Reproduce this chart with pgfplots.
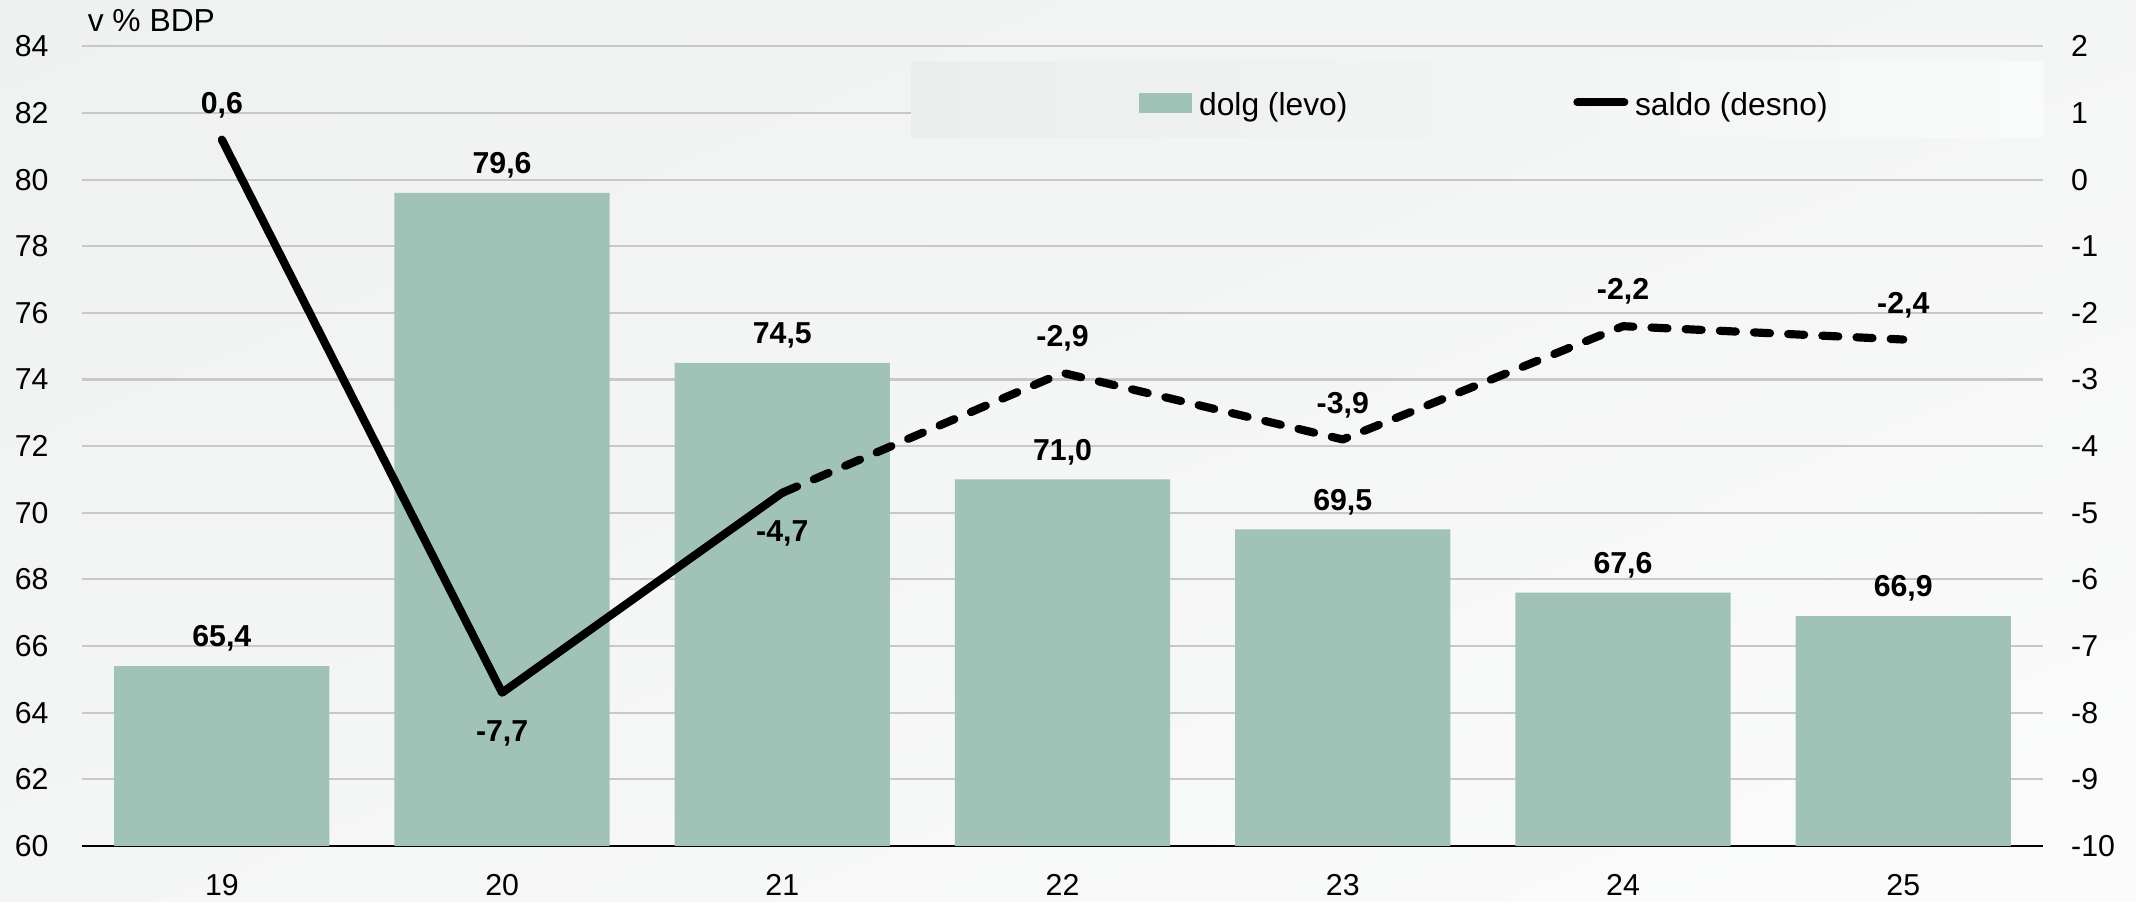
\documentclass[border=0pt]{standalone}
\usepackage{fontspec}
\setmainfont{Liberation Sans}
\usepackage{pgfplots}
\pgfplotsset{compat=1.18}
\usetikzlibrary{shadings}

\definecolor{barc}{HTML}{A1C2B6}
\definecolor{gridc}{HTML}{C8C8C8}
\definecolor{bgA}{HTML}{EDF1EF}
\definecolor{bgB}{HTML}{F4F6F5}
\definecolor{bgC}{HTML}{FBFBFB}
\definecolor{lgA}{HTML}{EBEEED}
\definecolor{lgB}{HTML}{F9FAFA}

\pgfplotsset{
  vallabel/.style={
    nodes near coords={\pgfmathprintnumber[fixed, fixed zerofill, precision=1, use comma]{\pgfplotspointmeta}},
    nodes near coords style={font=\fontsize{10}{12}\selectfont\bfseries, anchor=base, inner sep=0pt, yshift=#1},
  },
}

\begin{document}
\begin{tikzpicture}[font=\fontsize{10}{12}\selectfont]
\shade[upper left=bgA, upper right=bgB, lower left=bgB, lower right=bgC]
  (-27pt,-18.45pt) rectangle (678.6pt,279.45pt);
\useasboundingbox (-27pt,-18.45pt) rectangle (678.6pt,279.45pt);

% dolg (left axis)
\begin{axis}[
  at={(0,0)}, anchor=south west,
  scale only axis, width=648pt, height=264.15pt,
  xmin=-0.5, xmax=6.5, ymin=60, ymax=84,
  enlargelimits=false, clip=false,
  axis x line*=bottom, axis y line*=left,
  x axis line style={black, line width=0.8pt, -},
  y axis line style={draw=none},
  xtick={0,...,6}, xticklabels={19,20,21,22,23,24,25},
  ytick={60,62,...,84},
  major tick length=0pt, tick style={draw=none},
  ymajorgrids, grid style={gridc, line width=0.7pt},
  xticklabel style={inner sep=0pt, anchor=north, yshift=-9.3pt},
  yticklabel style={inner sep=0pt, anchor=east, xshift=-10.8pt},
  /pgf/number format/assume math mode=true,
  ybar, bar width=0.768,
]
\addplot[fill=barc, draw=none, vallabel=6.4pt] coordinates {(0,65.4) (1,79.6) (2,74.5) (3,71.0) (4,69.5) (5,67.6) (6,66.9)};
\node[anchor=base west, inner sep=0pt, font=\fontsize{10.5}{12}\selectfont, xshift=1.8pt, yshift=4.9pt]
  at (rel axis cs:0,1) {v \% BDP};
\end{axis}

% saldo (right axis)
\begin{axis}[
  at={(0,0)}, anchor=south west,
  scale only axis, width=648pt, height=264.15pt,
  xmin=-0.5, xmax=6.5, ymin=-10, ymax=2,
  enlargelimits=false,
  axis x line=none, axis y line*=right,
  y axis line style={draw=none},
  ytick={-10,...,2},
  major tick length=0pt, tick style={draw=none},
  yticklabel style={inner sep=0pt, anchor=west, xshift=9pt},
  /pgf/number format/assume math mode=true,
  legend columns=2,
  legend style={at={(0.5389,0.9276)}, anchor=west, draw=none, fill=none,
    inner sep=0pt, outer sep=0pt, font=\fontsize{10.5}{12}\selectfont,
    cells={anchor=base west}, nodes={inner sep=0pt, text depth=0pt},
    /tikz/every odd column/.append style={column sep=2.2pt},
    /tikz/every even column/.append style={column sep=74.6pt}},
]
\shade[left color=lgA, right color=lgB] (rel axis cs:0.4229,0.8859) rectangle (rel axis cs:1,0.9813);

\addlegendimage{legend image code/.code={\fill[barc] (0pt,1.2pt) rectangle (17.3pt,7.2pt);}}
\addlegendentry{dolg (levo)}

\addplot[black, line width=2.7pt, line cap=round, line join=round,
  legend image code/.code={\draw[black, line width=2.7pt, line cap=round] (0pt,4.4pt) -- (15.5pt,4.4pt);}]
  coordinates {(0,0.6) (1,-7.7) (2,-4.7)};
\addlegendentry{saldo (desno)}

\addplot[forget plot, black, line width=2.7pt, line cap=round, line join=round, dash pattern=on 5.3pt off 6pt]
  coordinates {(2,-4.7) (3,-2.9) (4,-3.9) (5,-2.2) (6,-2.4)};

% value labels of saldo: above and below the line
\addplot[forget plot, draw=none, mark=none, vallabel=8.7pt]
  coordinates {(0,0.6) (3,-2.9) (4,-3.9) (5,-2.2) (6,-2.4)};
\addplot[forget plot, draw=none, mark=none, vallabel=-16pt]
  coordinates {(1,-7.7) (2,-4.7)};
\end{axis}
\end{tikzpicture}
\end{document}
